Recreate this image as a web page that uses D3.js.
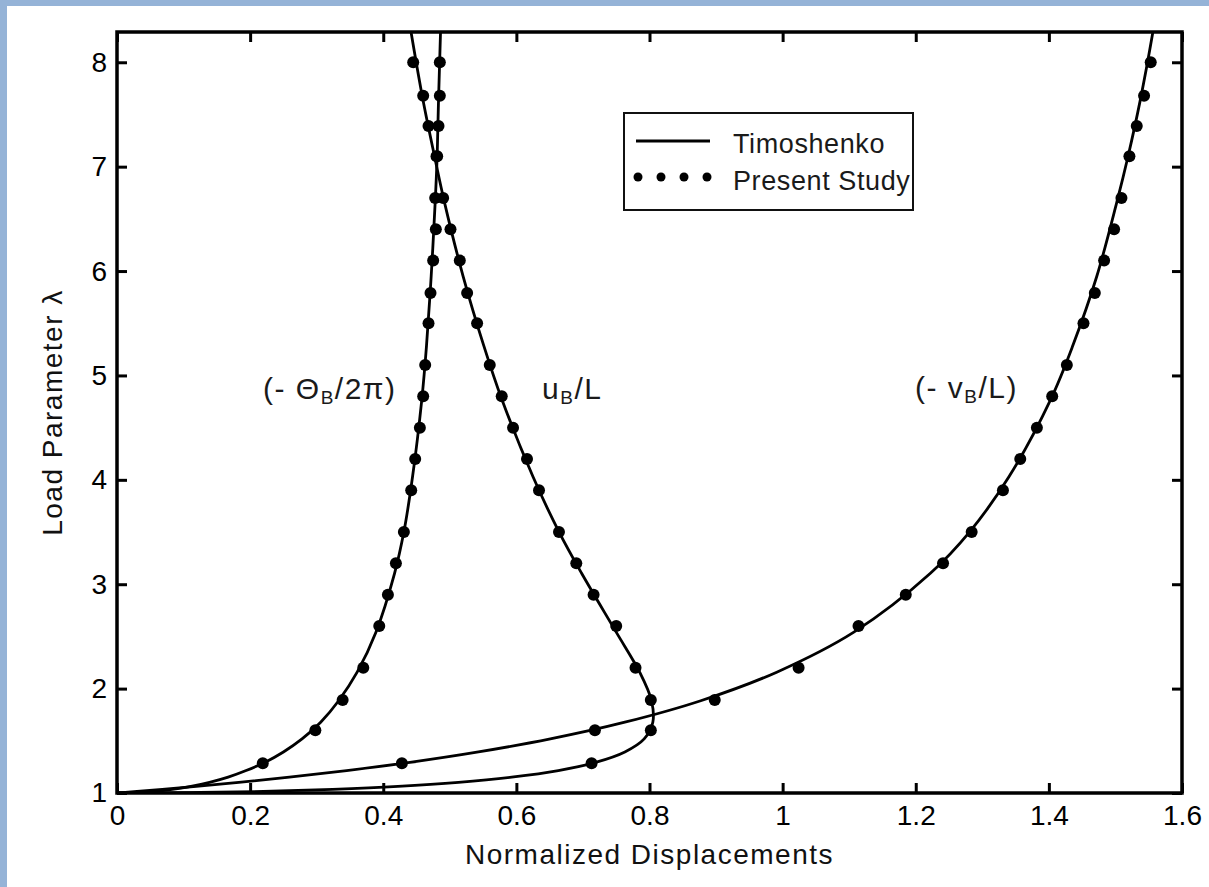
<!DOCTYPE html>
<html>
<head>
<meta charset="utf-8">
<script src="https://cdn.jsdelivr.net/npm/d3@7/dist/d3.min.js"></script>
<style>
  html, body { margin: 0; padding: 0; background: #fff; }
  svg { display: block; }
  text { font-family: "Liberation Sans", Arial, sans-serif; }
</style>
</head>
<body>
<script>
// ---- Data ----
// Timoshenko solution, sampled along the curve
const lineLambda = [1.000, 1.004, 1.015, 1.035, 1.063, 1.102, 1.152, 1.215, 1.293, 1.393, 1.518, 1.678, 1.884, 2.160, 2.541, 3.105, 3.502, 4.029, 4.774, 5.286, 5.950, 6.658, 7.100, 7.628, 8.281, 9.116];
const lineTheta  = [0.000, 0.028, 0.056, 0.083, 0.111, 0.139, 0.167, 0.194, 0.222, 0.250, 0.278, 0.306, 0.333, 0.361, 0.389, 0.417, 0.431, 0.444, 0.458, 0.465, 0.472, 0.478, 0.481, 0.483, 0.486, 0.489];
const lineU      = [0.000, 0.111, 0.220, 0.324, 0.422, 0.513, 0.593, 0.663, 0.719, 0.763, 0.792, 0.805, 0.803, 0.785, 0.750, 0.698, 0.664, 0.625, 0.578, 0.551, 0.520, 0.492, 0.477, 0.460, 0.442, 0.421];
const lineV      = [0.000, 0.008, 0.030, 0.068, 0.119, 0.183, 0.259, 0.345, 0.440, 0.543, 0.651, 0.763, 0.877, 0.992, 1.107, 1.222, 1.281, 1.340, 1.403, 1.436, 1.472, 1.502, 1.519, 1.537, 1.556, 1.577];

// Present Study points
const dotLambda = [8.00, 7.68, 7.39, 7.10, 6.70, 6.40, 6.10, 5.79, 5.50, 5.10, 4.80, 4.50, 4.20, 3.90, 3.50, 3.20, 2.90, 2.60, 2.20, 1.89, 1.60, 1.285];
const dotTheta  = [0.485, 0.485, 0.483, 0.481, 0.478, 0.479, 0.475, 0.471, 0.468, 0.463, 0.460, 0.455, 0.448, 0.442, 0.431, 0.419, 0.407, 0.394, 0.370, 0.339, 0.298, 0.219];
const dotU      = [0.445, 0.460, 0.468, 0.480, 0.490, 0.501, 0.515, 0.526, 0.541, 0.560, 0.578, 0.595, 0.616, 0.634, 0.664, 0.690, 0.716, 0.750, 0.779, 0.802, 0.802, 0.713];
const dotV      = [1.553, 1.543, 1.532, 1.521, 1.509, 1.498, 1.483, 1.469, 1.452, 1.427, 1.405, 1.382, 1.357, 1.331, 1.284, 1.241, 1.185, 1.114, 1.024, 0.898, 0.718, 0.428];

const xTicks = [0, 0.2, 0.4, 0.6, 0.8, 1, 1.2, 1.4, 1.6];
const xTickLabels = ["0", "0.2", "0.4", "0.6", "0.8", "1", "1.2", "1.4", "1.6"];
const yTicks = [1, 2, 3, 4, 5, 6, 7, 8];
const yTickLabels = ["1", "2", "3", "4", "5", "6", "7", "8"];

const legendLabels = ["Timoshenko", "Present Study"];

// ---- Layout ----
const W = 1209, H = 887;
const L = 117, R = 1182, T = 32, B = 793;
const FONT = 28;

const svg = d3.select("body").append("svg").attr("width", W).attr("height", H);
svg.append("rect").attr("x", 0).attr("y", 0).attr("width", W).attr("height", H).attr("fill", "#fff");
svg.append("rect").attr("x", 0).attr("y", 0).attr("width", 7).attr("height", H).attr("fill", "#95b3d7");
svg.append("rect").attr("x", 0).attr("y", 0).attr("width", W).attr("height", 6).attr("fill", "#95b3d7");

const x = d3.scaleLinear().domain([0, 1.6]).range([L, R]);
const y = d3.scaleLinear().domain([1, 8.29]).range([B, T]);

svg.append("defs").append("clipPath").attr("id", "clip")
  .append("rect").attr("x", L).attr("y", T).attr("width", R - L).attr("height", B - T);

// Axes (inward ticks on all four sides)
function styleAxis(g, labels) {
  g.select(".domain").remove();
  g.selectAll(".tick line").attr("stroke", "#000").attr("stroke-width", 3);
  g.selectAll(".tick text").attr("font-size", FONT).attr("fill", "#000")
    .attr("font-family", '"Liberation Sans", Arial, sans-serif');
  if (!labels) g.selectAll(".tick text").remove();
}
svg.append("g").attr("transform", `translate(0,${B})`)
  .call(d3.axisBottom(x).tickValues(xTicks).tickFormat((d, i) => xTickLabels[i]).tickSize(-10).tickSizeOuter(0).tickPadding(12))
  .call(g => styleAxis(g, true));
svg.append("g").attr("transform", `translate(0,${T})`)
  .call(d3.axisTop(x).tickValues(xTicks).tickSize(-10).tickSizeOuter(0))
  .call(g => styleAxis(g, false));
svg.append("g").attr("transform", `translate(${L},0)`)
  .call(d3.axisLeft(y).tickValues(yTicks).tickFormat((d, i) => yTickLabels[i]).tickSize(-10).tickSizeOuter(0).tickPadding(10))
  .call(g => styleAxis(g, true));
svg.append("g").attr("transform", `translate(${R},0)`)
  .call(d3.axisRight(y).tickValues(yTicks).tickSize(-10).tickSizeOuter(0))
  .call(g => styleAxis(g, false));

svg.append("rect").attr("x", L).attr("y", T).attr("width", R - L).attr("height", B - T)
  .attr("fill", "none").attr("stroke", "#000").attr("stroke-width", 3.5);

// Curves
const plot = svg.append("g").attr("clip-path", "url(#clip)");
const line = d3.line().x(d => x(d[0])).y(d => y(d[1])).curve(d3.curveCatmullRom.alpha(0.5));
[lineTheta, lineU, lineV].forEach(xs => {
  const pts = xs.map((v, i) => [v, lineLambda[i]]);
  plot.append("path").attr("d", line(pts)).attr("fill", "none")
    .attr("stroke", "#000").attr("stroke-width", 2.8).attr("stroke-linejoin", "round");
});
[dotTheta, dotU, dotV].forEach(xs => {
  plot.selectAll(null).data(xs.map((v, i) => [v, dotLambda[i]])).enter().append("circle")
    .attr("cx", d => x(d[0])).attr("cy", d => y(d[1])).attr("r", 6).attr("fill", "#000");
});

// Curve labels
function curveLabel(px, py, pre, post) {
  const t = svg.append("text").attr("x", px).attr("y", py).attr("font-size", 30)
    .attr("letter-spacing", 1.5).attr("fill", "#1a1a1a");
  t.append("tspan").text(pre);
  t.append("tspan").attr("font-size", 19).attr("dy", 5).text("B");
  t.append("tspan").attr("dy", -5).text(post);
}
curveLabel(263, 399, "(- \u0398", "/2\u03c0)");
curveLabel(542, 399, "u", "/L");
curveLabel(915, 398, "(- v", "/L)");

// Legend
svg.append("rect").attr("x", 624).attr("y", 113).attr("width", 289).attr("height", 97)
  .attr("fill", "#fff").attr("stroke", "#111").attr("stroke-width", 2);
svg.append("line").attr("x1", 636).attr("x2", 710).attr("y1", 141).attr("y2", 141)
  .attr("stroke", "#000").attr("stroke-width", 3);
svg.selectAll(null).data([638, 661, 684, 707]).enter().append("circle")
  .attr("cx", d => d).attr("cy", 177).attr("r", 4.5).attr("fill", "#000");
svg.selectAll(null).data(legendLabels).enter().append("text")
  .attr("x", 733).attr("y", (d, i) => 153 + i * 37).attr("font-size", 27)
  .attr("letter-spacing", 0.6).attr("fill", "#1a1a1a").text(d => d);

// Axis titles
svg.append("text").attr("x", (L + R) / 2).attr("y", 864).attr("text-anchor", "middle")
  .attr("font-size", FONT).attr("letter-spacing", 1.5).attr("fill", "#111").text("Normalized Displacements");
svg.append("text").attr("transform", `translate(62,${(T + B) / 2}) rotate(-90)`).attr("text-anchor", "middle")
  .attr("font-size", FONT).attr("letter-spacing", 1.5).attr("fill", "#111").text("Load Parameter  \u03bb");
</script>
</body>
</html>
